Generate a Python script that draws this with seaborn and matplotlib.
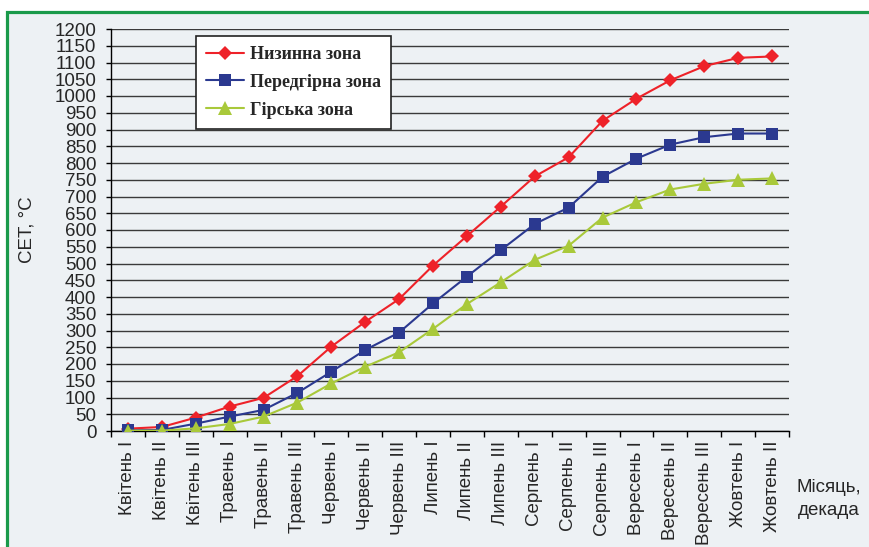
import matplotlib.pyplot as plt
import matplotlib.patches as mpatches
from matplotlib.ticker import MultipleLocator, FixedLocator
import seaborn as sns
import pandas as pd

# Дані: сума ефективних температур по декадах
decades = ['Квітень I', 'Квітень II', 'Квітень III', 'Травень I', 'Травень II',
           'Травень III', 'Червень I', 'Червень II', 'Червень III', 'Липень I',
           'Липень II', 'Липень III', 'Серпень I', 'Серпень II', 'Серпень III',
           'Вересень I', 'Вересень II', 'Вересень III', 'Жовтень I', 'Жовтень II']
lowland = [7, 12, 40, 73, 99, 164, 252, 326, 394, 494, 582, 670, 760, 817, 926,
           992, 1047, 1089, 1114, 1118]
foothill = [2, 3, 22, 43, 63, 114, 177, 242, 294, 381, 461, 540, 618, 667, 759,
            813, 855, 877, 888, 888]
mountain = [1, 1, 8, 21, 43, 85, 142, 192, 235, 305, 379, 444, 511, 553, 637,
            683, 721, 738, 750, 754]
zones = ['Низинна зона', 'Передгірна зона', 'Гірська зона']

bg = '#edf1f4'
sns.set_style('white')
plt.rcParams['font.family'] = ['Liberation Sans', 'DejaVu Sans']

df = pd.DataFrame({'decade': decades * 3,
                   'value': lowland + foothill + mountain,
                   'zone': [z for z in zones for _ in decades]})

fig = plt.figure(figsize=(8.69, 5.47), dpi=100, facecolor='white')
# зелена рамка
frame = mpatches.Rectangle((7.5 / 869, -0.02), 1.1, 1 - 11.5 / 547 + 0.02,
                           transform=fig.transFigure, facecolor=bg,
                           edgecolor='#1a9a4a', linewidth=2.3, zorder=-10)
fig.patches.append(frame)

ax = fig.add_axes([111 / 869, 1 - 431 / 547, 678 / 869, 402 / 547])
ax.set_facecolor(bg)

styles = {
    'Низинна зона': dict(color='#ee2229', marker='D', markersize=7),
    'Передгірна зона': dict(color='#2b3990', marker='s', markersize=8.5),
    'Гірська зона': dict(color='#a9c93a', marker='^', markersize=9.5),
}
for z in zones:
    st = styles[z]
    sns.lineplot(data=df[df['zone'] == z], x='decade', y='value', sort=False,
                 ax=ax, color=st['color'], marker=st['marker'],
                 markersize=st['markersize'], markeredgewidth=0,
                 linewidth=1.5, label=z, zorder=3)

ax.set_xlim(-0.5, len(decades) - 0.5)
ax.set_ylim(0, 1200)
ax.yaxis.set_major_locator(MultipleLocator(50))
ax.xaxis.set_major_locator(FixedLocator(range(len(decades))))
ax.set_xticklabels(decades, rotation=90, fontsize=13.5)
ax.xaxis.set_minor_locator(FixedLocator([i - 0.5 for i in range(len(decades) + 1)]))
ax.tick_params(axis='x', which='major', length=0, pad=7)
ax.tick_params(axis='x', which='minor', length=4, width=1, direction='out', color='black', bottom=True)
ax.tick_params(axis='y', length=3.6, width=1, direction='out', color='black', pad=7, labelsize=13.5, left=True)

ax.grid(axis='y', color='#3a3a3a', linewidth=1.0)
for s in ['top', 'right']:
    ax.spines[s].set_visible(False)
for s in ['left', 'bottom']:
    ax.spines[s].set_color('black')
    ax.spines[s].set_linewidth(1)

ax.set_xlabel('')
ax.set_ylabel('СЕТ, °C', fontsize=13.5)
ax.yaxis.set_label_coords(-0.111, 0.5)

fig.text(829 / 869, 1 - 499 / 547, 'Місяць,\nдекада', ha='center', va='center',
         fontsize=13.5, linespacing=1.45)

leg = ax.legend(loc='upper left', bbox_to_anchor=(0.1254, 0.9826), borderaxespad=0,
                frameon=True, fancybox=False, edgecolor='#222222', facecolor='white',
                framealpha=1, handlelength=2.1, handletextpad=0.35, labelspacing=0.6,
                borderpad=0.55,
                prop={'family': 'Liberation Serif', 'weight': 'bold', 'size': 13})
leg.get_frame().set_linewidth(1.2)

fig.savefig('out.png', dpi=100, facecolor=fig.get_facecolor())
